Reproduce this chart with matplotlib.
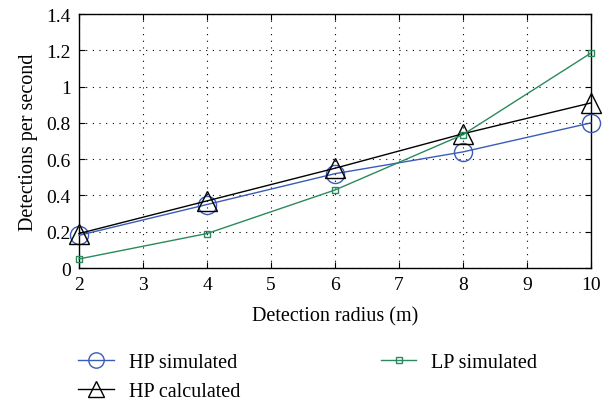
import matplotlib
matplotlib.use("Agg")
import matplotlib.pyplot as plt

plt.rcParams['font.family'] = ['Liberation Serif', 'DejaVu Serif']
plt.rcParams['mathtext.fontset'] = 'stix'

# data
radius = [2, 4, 6, 8, 10]
hp_sim = [0.18, 0.35, 0.52, 0.64, 0.80]
hp_calc = [0.19, 0.37, 0.55, 0.74, 0.91]
lp_sim = [0.05, 0.19, 0.43, 0.735, 1.185]

fig = plt.figure(figsize=(6.14, 4.06), dpi=100)
ax = fig.add_axes([0.1287, 0.3374, 0.8338, 0.6256])

ax.plot(radius, hp_sim, color="#3a5cb8", lw=1.0, marker="o", ms=13,
        mfc="none", mew=1.0, label="HP simulated", clip_on=False, zorder=3)
ax.plot(radius, hp_calc, color="black", lw=1.0, marker="^", ms=14,
        mfc="none", mew=1.0, label="HP calculated", clip_on=False, zorder=3)
ax.plot(radius, lp_sim, color="#2a8a5c", lw=1.0, marker="s", ms=5,
        mfc="none", mew=1.0, label="LP simulated", clip_on=False, zorder=3)

ax.set_xlim(2, 10)
ax.set_ylim(0, 1.4)
ax.set_xticks(range(2, 11))
ax.set_yticks([0, 0.2, 0.4, 0.6, 0.8, 1.0, 1.2, 1.4])
ax.set_yticklabels(["0", "0.2", "0.4", "0.6", "0.8", "1", "1.2", "1.4"])
ax.tick_params(direction="in", top=True, right=True, labelsize=14, length=4, pad=6)
ax.grid(True, linestyle=(0, (1, 5)), color="black", lw=0.8)
for s in ax.spines.values():
    s.set_linewidth(1.0)

ax.set_xlabel("Detection radius (m)", fontsize=14.5, labelpad=9)
ax.set_ylabel("Detections per second", fontsize=14.5, labelpad=6)

fig.legend(loc="upper left", bbox_to_anchor=(0.098, 0.172), ncol=2,
           frameon=False, fontsize=14.5, columnspacing=7.0, handlelength=1.75,
           handletextpad=0.75, labelspacing=0.45, markerscale=0.85)

fig.savefig("out.png", dpi=100)
